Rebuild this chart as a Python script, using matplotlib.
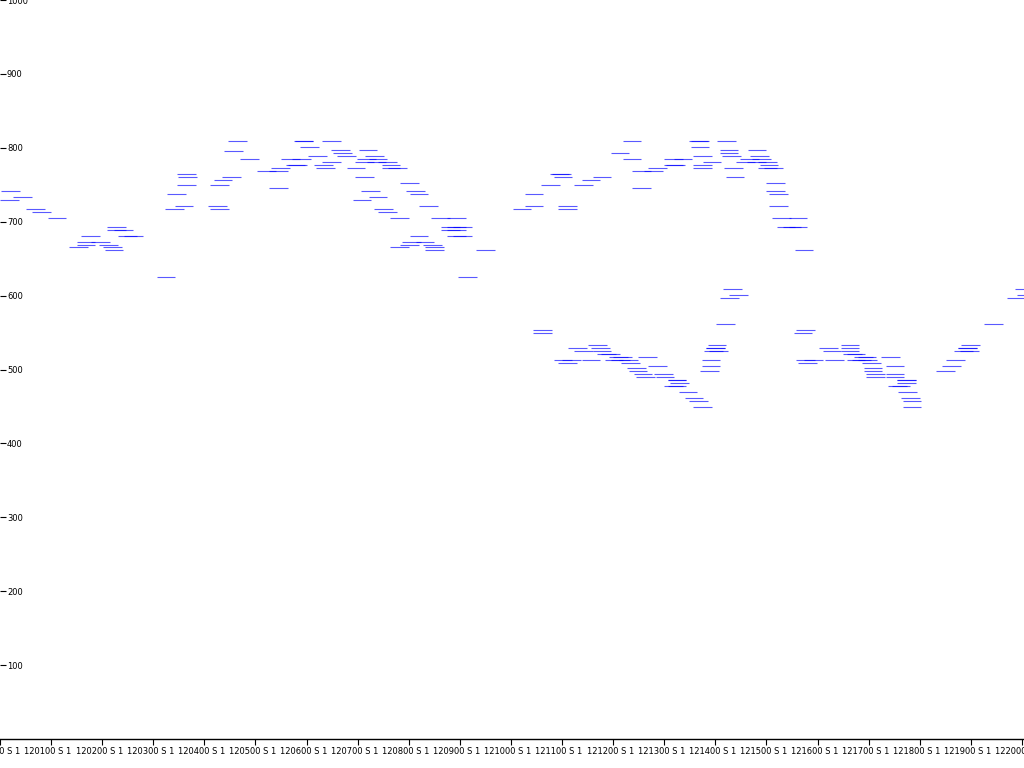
import matplotlib
matplotlib.use("Agg")
import matplotlib.pyplot as plt
import matplotlib.transforms as mtransforms

# reading windows: start time in seconds after 12:00:00, and the level read
start_a = [0, 1, 15, 31, 38, 56,
           81, 90, 90, 95, 107, 116, 121, 123, 126, 126, 134, 139, 146,
           184,
           194, 196, 205, 208, 209, 208,
           244, 247, 247, 251, 261, 263, 268, 282,
           302, 316, 316, 318, 330, 336, 338, 343, 345, 346, 352, 362, 369, 371, 378, 378, 389, 391, 396,
           407, 414, 417, 417, 419, 421, 424, 429, 431, 433, 433, 439, 444, 444, 448, 448, 456, 458, 458,
           470, 470, 472, 477, 481, 481, 488, 492, 497, 499, 499, 506, 518, 518, 525, 525, 525, 525, 532, 532, 538, 559]
level_a = [729, 742, 733, 717, 713, 705,
           666, 673, 668, 681, 673, 668, 666, 662, 693, 689, 689, 681, 681,
           625,
           717, 738, 721, 765, 760, 750,
           721, 750, 717, 756, 760, 795, 809, 785,
           769, 769, 746, 773, 785, 777, 777, 785, 809, 809, 801, 789, 777, 773, 809, 781, 797, 793, 789,
           773, 729, 760, 781, 785, 797, 742, 789, 781, 785, 733, 717, 781, 713, 777, 773, 773, 705, 666,
           752, 668, 673, 742, 738, 681, 673, 721, 668, 666, 662, 705, 693, 689, 705, 693, 689, 681, 693, 681, 625, 662]

start_b = [602, 616, 616, 626, 626, 635, 646, 648, 650, 650, 655, 655, 655, 660, 667, 674, 674, 683, 683, 691,
           694, 696, 696, 701, 706, 710, 715, 717, 718, 720, 727, 729, 731, 731, 736, 738, 742, 742, 744, 747,
           749, 756, 761, 761, 768, 770, 780, 780, 782, 780, 784, 784, 784, 787, 791, 797, 804, 809, 811, 809,
           811, 814, 814, 814, 814, 822, 824, 824, 825, 827, 829, 829, 831, 833, 841, 842, 845, 845, 846, 848,
           849, 850, 852, 856, 864, 869, 877, 878, 881, 883, 890, 890, 892, 897, 900, 900, 903, 903, 907, 912,
           919, 926, 926, 932, 933, 935, 935, 937, 944, 962, 966, 969, 987, 987, 987, 990, 994, 994, 1001, 1003,
           1007, 1008, 1012, 1014, 1014, 1017, 1017, 1035, 1040, 1040, 1040, 1043, 1047, 1053, 1053, 1053, 1055, 1058, 1060, 1060,
           1099, 1106, 1111, 1120, 1125, 1125, 1127, 1129, 1156, 1182, 1192, 1194]
level_b = [717, 738, 721, 553, 549, 750, 765, 765, 760, 513, 721, 717, 509, 513, 529, 750, 525, 756, 513, 533,
           529, 760, 525, 521, 521, 513, 517, 793, 513, 517, 513, 509, 809, 785, 502, 498, 769, 746, 494, 490,
           517, 769, 773, 505, 494, 490, 785, 777, 777, 478, 486, 486, 478, 482, 785, 470, 461, 809, 809, 457,
           801, 789, 777, 773, 449, 498, 513, 505, 781, 525, 529, 529, 533, 525, 562, 809, 797, 793, 597, 789,
           609, 773, 760, 601, 781, 785, 781, 797, 789, 785, 781, 773, 777, 773, 752, 742, 738, 721, 705, 693,
           693, 705, 693, 549, 662, 553, 513, 509, 513, 529, 525, 513, 533, 529, 525, 521, 521, 513, 513, 517,
           517, 513, 509, 502, 498, 494, 490, 517, 505, 494, 490, 478, 478, 486, 486, 482, 470, 461, 457, 449,
           498, 505, 513, 525, 529, 529, 525, 533, 562, 597, 609, 601]

window_s = 22

tick_times = ["120000", "120100", "120200", "120300", "120400", "120500", "120600",
              "120700", "120800", "120900", "121000", "121100", "121200", "121300",
              "121400", "121500", "121600", "121700", "121800", "121900", "122000"]
y_ticks = [100, 200, 300, 400, 500, 600, 700, 800, 900, 1000]

fig = plt.figure(figsize=(10.24, 7.68), dpi=100)
ax = fig.add_axes([0, 29 / 768, 1, 739 / 768])

for starts, levels in [(start_a, level_a), (start_b, level_b)]:
    ends = [s + window_s for s in starts]
    ax.hlines(levels, starts, ends, colors="blue", alpha=0.65, linewidth=0.8)

ax.set_xlim(0, 1202.4)
ax.set_ylim(0, 1000)

for side in ["top", "right", "left"]:
    ax.spines[side].set_visible(False)
ax.spines["bottom"].set_linewidth(1.0)

ax.set_xticks([60 * i for i in range(len(tick_times))])
ax.set_xticklabels([t + " S 1" for t in tick_times], fontsize=6)
ax.tick_params(axis="x", direction="out", length=4, width=0.8, pad=2)
shift = mtransforms.ScaledTranslation(-3 / 100, 0, fig.dpi_scale_trans)
for lbl in ax.get_xticklabels():
    lbl.set_transform(lbl.get_transform() + shift)

ax.set_yticks(y_ticks)
ax.set_yticklabels([str(v) for v in y_ticks], fontsize=6)
ax.tick_params(axis="y", direction="in", length=4, width=0.8, pad=-5)
for lbl in ax.get_yticklabels():
    lbl.set_horizontalalignment("left")

fig.savefig("out.png", dpi=100)
